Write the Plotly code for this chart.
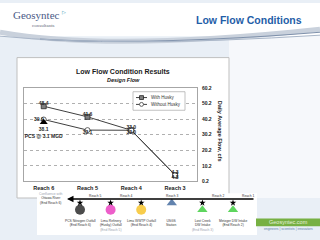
import plotly.graph_objects as go

# ---------------- data ----------------
reaches = ["Reach 6", "Reach 5", "Reach 4", "Reach 3"]
with_husky = [48.4, 41.6, 33.0, 4.3]
without_husky = [39.9, 33.1, 33.0, 4.3]
pcs_reach = ["Reach 6"]
pcs_value = [38.1]
pcs_label = "PCS @ 3.1 MGD"
y_ticks = [0.2, 10.2, 20.2, 30.2, 40.2, 50.2, 60.2]
series_names = ["With Husky", "Without Husky"]

facilities = ["PCS Nitrogen Outfall", "Lima Refinery Outfall", "Lima WWTP Outfall",
              "USGS Station", "Lost Creek DW Intake", "Metzger DW Intake"]
facility_labels = ["PCS Nitrogen Outfall<br>(End Reach 6)",
                   "Lima Refinery<br>(Husky) Outfall<br><span style='color:#9aa3b0'>(End Reach 5)</span>",
                   "Lima WWTP Outfall<br>(End Reach 4)",
                   "USGS<br>Station",
                   "Lost Creek<br>DW Intake<br><span style='color:#9aa3b0'>(End Reach 3)</span>",
                   "Metzger DW Intake<br>(End Reach 2)"]
facility_colors = ["#000000", "#e619b4", "#f5b800", "#1f4e8c", "#19c319", "#19c319"]
facility_symbols = ["circle", "circle", "circle", "triangle-up", "triangle-up", "triangle-up"]
facility_flagged = [True, True, True, False, True, True]
river_reach_labels = ["Reach 5", "Reach 4", "Reach 3", "Reach 2", "Reach 1"]
river_reach_index = [0.5, 1.5, 3.0, 4.5, 5.5]

W, H = 320, 240
def px(x): return x / W
def py(y): return 1 - y / H

FONT = "Liberation Sans"
fig = go.Figure()

# ---------------- main chart ----------------
fig.add_trace(go.Scatter(x=reaches, y=with_husky, name=series_names[0], mode="lines+markers",
                         line=dict(color="#404040", width=1),
                         marker=dict(symbol="square", size=5, color="#808080",
                                     line=dict(color="#262626", width=0.8)),
                         cliponaxis=False, showlegend=False))
fig.add_trace(go.Scatter(x=reaches, y=without_husky, name=series_names[1], mode="lines+markers",
                         line=dict(color="#404040", width=1),
                         marker=dict(symbol="circle", size=5, color="white",
                                     line=dict(color="#404040", width=0.8)),
                         cliponaxis=False, showlegend=False))
lbl_font = dict(family=FONT, size=5, color="#262626", weight="bold")
fig.add_trace(go.Scatter(x=reaches, y=with_husky, mode="text", showlegend=False,
                         text=[f"{v:.1f}" for v in with_husky],
                         textposition="top center", textfont=lbl_font, cliponaxis=False))
fig.add_trace(go.Scatter(x=reaches, y=without_husky, mode="text", showlegend=False,
                         text=[f"{v:.1f}" for v in without_husky],
                         textposition=["middle left", "bottom center", "bottom center", "bottom center"],
                         textfont=lbl_font, cliponaxis=False))
fig.add_trace(go.Scatter(x=pcs_reach, y=pcs_value, mode="markers+text", showlegend=False,
                         marker=dict(symbol="triangle-up", size=7, color="#000000"),
                         text=[f"{pcs_value[0]:.1f}<br>{pcs_label}"],
                         textposition="bottom center", textfont=lbl_font, cliponaxis=False))

# ---------------- river schematic ----------------
flag_x = [f for f, fl in zip(facilities, facility_flagged) if fl]
fig.add_trace(go.Scatter(x=flag_x, y=[1] * len(flag_x), xaxis="x2", yaxis="y2",
                         mode="markers", showlegend=False,
                         marker=dict(symbol="star", size=5, color="#000000")))
fig.add_trace(go.Scatter(x=facilities, y=[0 if fl else 1 for fl in facility_flagged],
                         xaxis="x2", yaxis="y2", mode="markers", showlegend=False,
                         marker=dict(symbol=facility_symbols, color=facility_colors,
                                     size=[10, 10, 10, 9, 9, 9], line=dict(width=0))))

shapes = []
# background pieces
shapes.append(dict(type="rect", xref="paper", yref="paper", x0=0, x1=1, y0=py(34), y1=1,
                   fillcolor="white", line_width=0, layer="below"))
shapes.append(dict(type="rect", xref="paper", yref="paper", x0=px(229), x1=1, y0=py(200), y1=py(34),
                   fillcolor="#f6f8fb", line_width=0, layer="below"))
# swoosh
shapes.append(dict(type="path", xref="paper", yref="paper",
                   path=f"M 0,{py(30)} Q {px(110)},{py(50)} {px(320)},{py(27)}",
                   line=dict(color="#c9d1dc", width=5), layer="below"))
shapes.append(dict(type="path", xref="paper", yref="paper",
                   path=f"M {px(40)},{py(37)} Q {px(150)},{py(44)} {px(320)},{py(30)}",
                   line=dict(color="#7f91ab", width=1.2), layer="below"))
shapes.append(dict(type="path", xref="paper", yref="paper",
                   path=f"M 0,{py(34)} Q {px(120)},{py(46)} {px(320)},{py(33)}",
                   line=dict(color="#a9b6c8", width=1), layer="below"))
# chart box
shapes.append(dict(type="rect", xref="paper", yref="paper", x0=px(17), x1=px(229), y0=py(200), y1=py(56),
                   fillcolor="white", line=dict(color="#bfbfbf", width=1), layer="below"))
# white panel for schematic
shapes.append(dict(type="rect", xref="paper", yref="paper", x0=px(37), x1=px(257), y0=py(238), y1=py(195),
                   fillcolor="white", line_width=0, layer="below"))
# green banner
shapes.append(dict(type="rect", xref="paper", yref="paper", x0=px(256), x1=1, y0=py(229), y1=py(221),
                   fillcolor="#77b043", line_width=0, layer="below"))
# legend box (drawn manually: plotly's legend rows cannot be this small)
shapes.append(dict(type="rect", xref="paper", yref="paper", x0=px(133), x1=px(185), y0=py(110), y1=py(91),
                   fillcolor="white", line=dict(color="#a6a6a6", width=0.7), layer="above"))
for i, yy in enumerate([97, 104]):
    shapes.append(dict(type="line", xref="paper", yref="paper", x0=px(136), x1=px(147), y0=py(yy), y1=py(yy),
                       line=dict(color="#404040", width=1), layer="above"))
shapes.append(dict(type="rect", xref="paper", yref="paper", x0=px(139.5), x1=px(143.5), y0=py(99), y1=py(95),
                   fillcolor="#808080", line=dict(color="#262626", width=0.8), layer="above"))
shapes.append(dict(type="circle", xref="paper", yref="paper", x0=px(139.5), x1=px(143.5), y0=py(106), y1=py(102),
                   fillcolor="white", line=dict(color="#404040", width=0.8), layer="above"))

ann = []
def A(text, x, y, size, color="#333333", family=FONT, weight="normal", xref="paper", xanchor="center",
      yanchor="middle", **kw):
    d = dict(text=text, x=x, y=y, xref=xref, yref="paper", showarrow=False,
             xanchor=xanchor, yanchor=yanchor,
             font=dict(family=family, size=size, color=color, weight=weight))
    d.update(kw)
    ann.append(d)

A("Geosyntec", px(36), py(12), 11, "#4a5a86", family="Liberation Serif")
A("▷", px(64), py(9), 5, "#2e8fb0", family="DejaVu Sans")
A("consultants", px(43), py(23), 5, "#666e7e", family="Liberation Serif")
A("Low Flow Conditions", px(249), py(17), 10.5, "#1f5ea8", weight="bold")
A("Low Flow Condition Results", px(123), py(70), 7, "#1a1a1a", weight="bold")
A("<i>Design Flow</i>", px(123), py(79), 5.5, "#1a1a1a", weight="bold")
A("Daily Average Flow, cfs", px(220), py(131), 5.5, "#1a1a1a", weight="bold", textangle=90)
A(series_names[0], px(149), py(97), 4.5, "#333333", xanchor="left")
A(series_names[1], px(149), py(104), 4.5, "#333333", xanchor="left")
# river arrow
ann.append(dict(text="", x=px(67), y=py(201), xref="paper", yref="paper", showarrow=True,
                ax=188, ay=0, arrowhead=2, arrowsize=1, arrowwidth=1.3, arrowcolor="#000000"))
A("<span style='color:#9aa3b0'>Confluence with</span><br>Ottawa River<br>(End Reach 6)",
  px(51), py(201), 3.3)
for lab, xi in zip(river_reach_labels, river_reach_index):
    A(lab, xi, py(198), 3.3, xref="x2")
for f, lab in zip(facilities, facility_labels):
    A(lab, f, py(219), 3.3, xref="x2", yanchor="top")
A("Geosyntec.com", px(288), py(225), 5.5, "#e6f0da")
A("engineers | scientists | innovators", px(288), py(232), 3.3, "#5d80aa")

fig.update_layout(
    width=W, height=H, autosize=False, margin=dict(l=0, r=0, t=0, b=0),
    paper_bgcolor="#e9eff6", plot_bgcolor="white",
    font=dict(family=FONT),
    shapes=shapes, annotations=ann,
    showlegend=False,
    xaxis=dict(domain=[px(24), px(197)], type="category", categoryorder="array",
               categoryarray=reaches, range=[-0.45, 3.5],
               showline=True, mirror=True, linecolor="#a6a6a6", linewidth=0.8,
               showgrid=False, ticks="", ticklabelstandoff=1,
               tickfont=dict(family=FONT, size=5.5, color="#1a1a1a", weight="bold")),
    yaxis=dict(domain=[py(183), py(87)], side="right", range=[0.2, 60.2],
               tickvals=y_ticks, ticktext=[f"{v:.1f}" for v in y_ticks],
               showline=True, mirror=True, linecolor="#a6a6a6", linewidth=0.8,
               showgrid=True, gridcolor="#b0b0b0", griddash="dot", gridwidth=0.6,
               zeroline=False, ticks="", ticklabelstandoff=3,
               tickfont=dict(family=FONT, size=5, color="#1a1a1a", weight="bold")),
    xaxis2=dict(domain=[px(64.7), px(248.3)], type="category", categoryorder="array",
                categoryarray=facilities, range=[-0.5, 5.5], anchor="y2",
                visible=False),
    yaxis2=dict(domain=[py(226), py(196)], range=[-2, 2.286], anchor="x2", visible=False),
)

fig.write_html("out.html")
